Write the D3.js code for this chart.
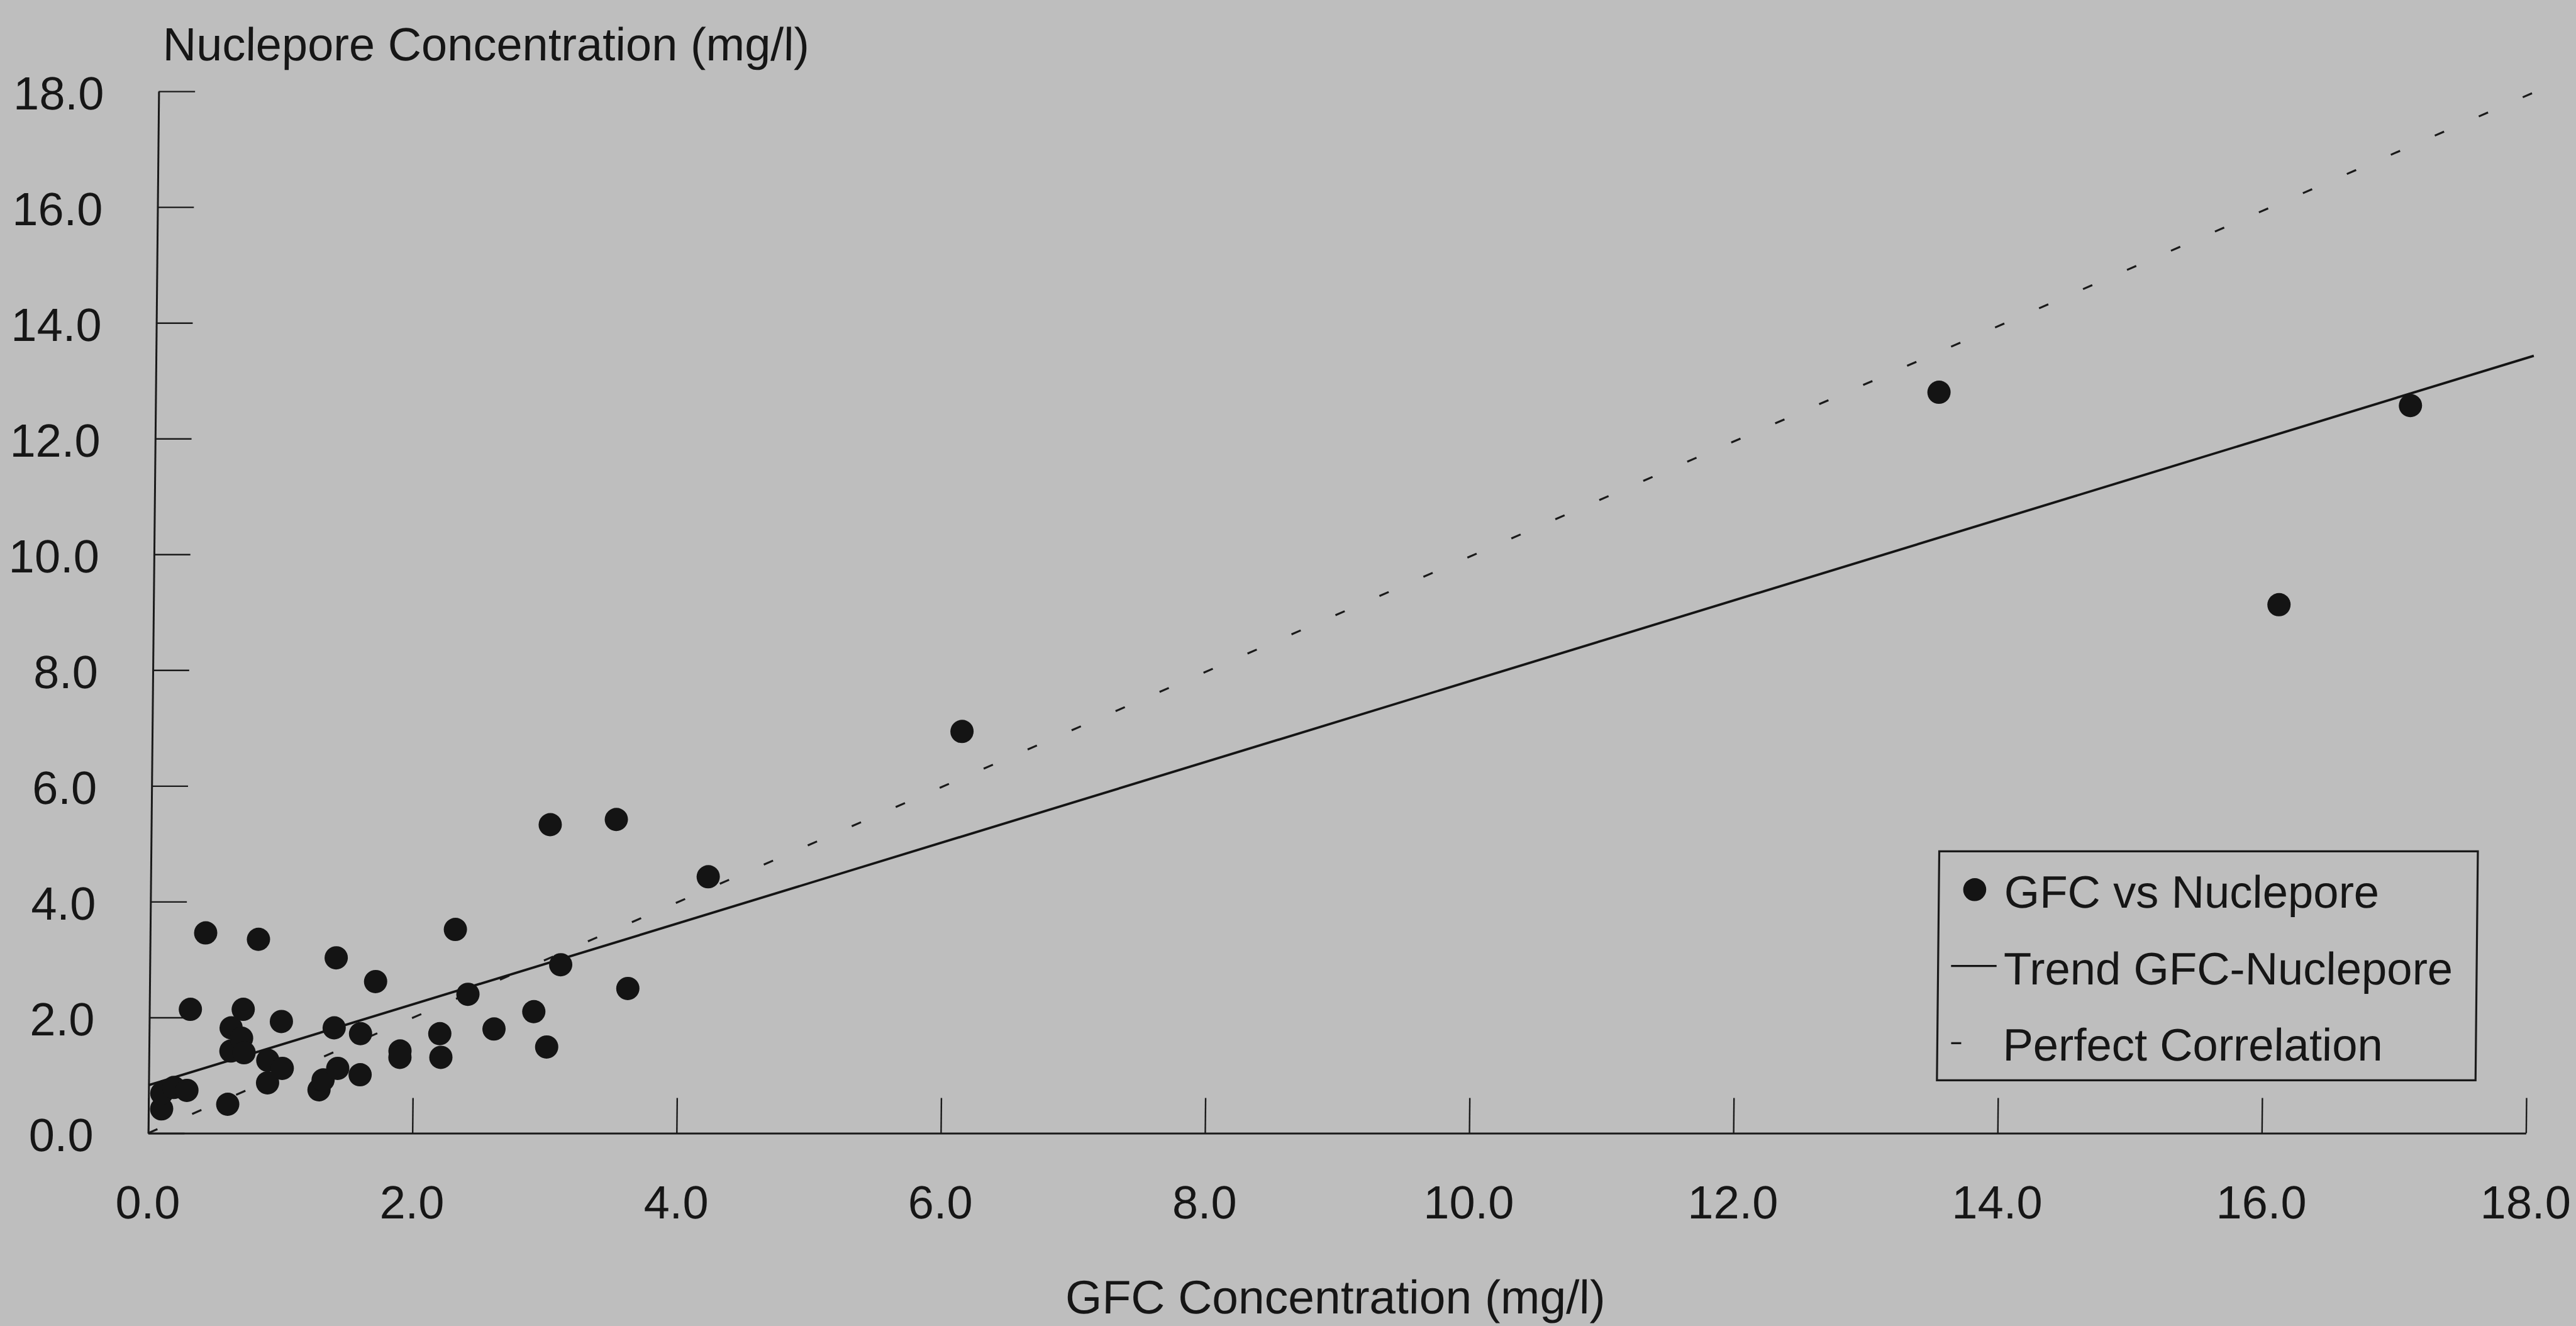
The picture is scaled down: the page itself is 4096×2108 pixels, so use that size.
<!DOCTYPE html>
<html>
<head>
<meta charset="utf-8">
<script src="https://cdn.jsdelivr.net/npm/d3@7"></script>
<style>
  html, body { margin: 0; padding: 0; background: #bebebe; }
  svg { display: block; }
  text { font-family: "Liberation Sans", Arial, Helvetica, sans-serif; fill: #161616; }
</style>
</head>
<body>
<div id="chart"></div>
<script>
// GFC (x) against Nuclepore (y) concentrations, mg/l
var gfc = [0.10, 0.10, 0.19, 0.29, 0.31, 0.42, 0.60, 0.62, 0.62, 0.70,
           0.71, 0.72, 0.82, 0.90, 0.90, 1.00, 1.01, 1.29, 1.32, 1.40,
           1.41, 1.43, 1.60, 1.60, 1.71, 1.90, 1.90, 2.20, 2.21, 2.31,
           2.41, 2.61, 2.91, 3.01, 3.02, 3.11, 3.52, 3.62, 4.22, 6.13,
           13.50, 16.09, 17.07];
var nuclepore = [0.42, 0.69, 0.79, 0.74, 2.14, 3.46, 0.50, 1.82, 1.42, 1.64,
                 2.14, 1.39, 3.35, 1.26, 0.87, 1.93, 1.12, 0.75, 0.92, 1.82,
                 3.03, 1.12, 1.01, 1.72, 2.62, 1.42, 1.31, 1.72, 1.31, 3.52,
                 2.40, 1.80, 2.10, 1.49, 5.33, 2.91, 5.42, 2.50, 4.43, 6.94,
                 12.80, 9.13, 12.57];

// trend line and the 1:1 line, as end points
var trendX = [0, 18];
var trendY = [0.83, 13.43];
var perfectX = [0, 18];
var perfectY = [0, 18];

var xTickValues = [0, 2, 4, 6, 8, 10, 12, 14, 16, 18];
var yTickValues = [0, 2, 4, 6, 8, 10, 12, 14, 16, 18];

var legendLabels = ["GFC vs Nuclepore", "Trend GFC-Nuclepore", "Perfect Correlation"];
var xTitle = "GFC Concentration (mg/l)";
var yTitle = "Nuclepore Concentration (mg/l)";

var width = 4096, height = 2108;
var plotLeft = 235.6, plotRight = 4016.4, plotTop = 145.1, plotBottom = 1801.5;
var fontSize = 74;

var svg = d3.select("#chart").append("svg")
  .attr("width", width)
  .attr("height", height);

svg.append("rect")
  .attr("width", width)
  .attr("height", height)
  .attr("fill", "#bebebe");

// the scan leans a little: the top of the page sits further right
var g = svg.append("g")
  .attr("transform", "translate(0," + plotBottom + ") skewX(-0.58) translate(0," + (-plotBottom) + ")");

var x = d3.scaleLinear().domain([0, 18]).range([plotLeft, plotRight]);
var y = d3.scaleLinear().domain([0, 18]).range([plotBottom, plotTop]);

// axes, ticks pointing inwards
var yAxis = d3.axisLeft(y)
  .tickValues(yTickValues)
  .tickFormat(d3.format(".1f"))
  .tickSizeInner(-57.8)
  .tickSizeOuter(0)
  .tickPadding(87);

var xAxis = d3.axisBottom(x)
  .tickValues(xTickValues)
  .tickFormat(d3.format(".1f"))
  .tickSizeInner(-56)
  .tickSizeOuter(0);

var gy = g.append("g")
  .attr("transform", "translate(" + plotLeft + ",0)")
  .call(yAxis);

gy.selectAll("text")
  .attr("dy", null)
  .attr("y", 28)
  .style("font-size", fontSize + "px")
  .attr("font-family", null);

var gx = g.append("g")
  .attr("transform", "translate(0," + plotBottom + ")")
  .call(xAxis);

gx.selectAll("text")
  .attr("dy", null)
  .attr("y", 136)
  .style("font-size", fontSize + "px")
  .attr("font-family", null);

g.selectAll(".domain").attr("stroke", "#1a1a1a").attr("stroke-width", 3);
g.selectAll(".tick line").attr("stroke", "#1a1a1a").attr("stroke-width", 2.4);
g.selectAll(".tick text").attr("fill", "#161616");

// perfect correlation, dashed
var line = d3.line()
  .x(function(d) { return x(d[0]); })
  .y(function(d) { return y(d[1]); });

g.append("path")
  .datum(d3.zip(perfectX, perfectY))
  .attr("d", line)
  .attr("fill", "none")
  .attr("stroke", "#1a1a1a")
  .attr("stroke-width", 3.2)
  .attr("stroke-dasharray", "16,60");

// trend line
g.append("path")
  .datum(d3.zip(trendX, trendY))
  .attr("d", line)
  .attr("fill", "none")
  .attr("stroke", "#141414")
  .attr("stroke-width", 3.8);

// points
g.selectAll("circle.pt")
  .data(d3.zip(gfc, nuclepore))
  .enter().append("circle")
  .attr("class", "pt")
  .attr("cx", function(d) { return x(d[0]); })
  .attr("cy", function(d) { return y(d[1]); })
  .attr("r", 18.5)
  .attr("fill", "#141414");

// axis titles
g.append("text")
  .attr("x", 241.3)
  .attr("y", 96.3)
  .style("font-size", fontSize + "px")
  .text(yTitle);

g.append("text")
  .attr("x", (plotLeft + plotRight) / 2)
  .attr("y", 2088)
  .attr("text-anchor", "middle")
  .style("font-size", "75px")
  .text(xTitle);

// legend
var legend = g.append("g");

legend.append("rect")
  .attr("x", 3079)
  .attr("y", 1353.3)
  .attr("width", 3935.4 - 3079)
  .attr("height", 1717.4 - 1353.3)
  .attr("fill", "none")
  .attr("stroke", "#1a1a1a")
  .attr("stroke-width", 3.2);

var rowY = [1443.5, 1564.9, 1685.9];

legend.append("circle")
  .attr("cx", 3136)
  .attr("cy", 1414.3)
  .attr("r", 18.3)
  .attr("fill", "#141414");

legend.append("line")
  .attr("x1", 3099.6).attr("x2", 3172)
  .attr("y1", 1535.7).attr("y2", 1535.7)
  .attr("stroke", "#141414")
  .attr("stroke-width", 3.2);

legend.append("line")
  .attr("x1", 3101).attr("x2", 3172)
  .attr("y1", 1658.3).attr("y2", 1658.3)
  .attr("stroke", "#1a1a1a")
  .attr("stroke-width", 3.2)
  .attr("stroke-dasharray", "16,60");

legend.selectAll("text")
  .data(legendLabels)
  .enter().append("text")
  .attr("x", 3183)
  .attr("y", function(d, i) { return rowY[i]; })
  .style("font-size", "72.5px")
  .text(function(d) { return d; });
</script>
</body>
</html>
